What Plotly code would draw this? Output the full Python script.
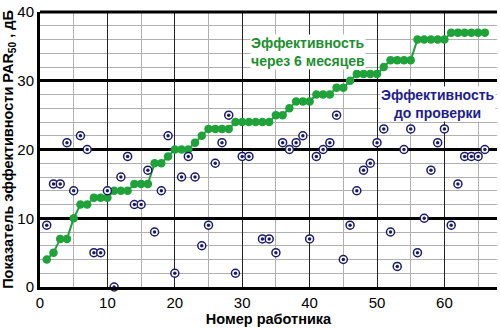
import plotly.graph_objects as go

workers = list(range(1, 67))
after_6m = [4, 5, 7, 7, 10, 12, 12, 13, 13, 13, 14, 14, 14, 15, 15, 15, 18, 18, 19, 20,
            20, 20, 21, 22, 23, 23, 23, 23, 24, 24, 24, 24, 24, 24, 25, 25, 26, 27, 27, 27,
            28, 28, 28, 29, 29, 30, 31, 31, 31, 31, 32, 33, 33, 33, 33, 36, 36, 36, 36, 36,
            37, 37, 37, 37, 37, 37]
before = [9, 15, 15, 21, 14, 22, 20, 5, 5, 14, 0, 16, 19, 12, 12, 17, 8, 14, 22, 2,
          16, 19, 16, 6, 9, 18, 21, 25, 2, 19, 19, None, 7, 7, 5, 21, 20, 21, 22, 7,
          19, 20, 21, 25, 4, 9, 14, 17, 18, 21, 23, 8, 3, 20, 23, 5, 10, 17, 21, 23,
          9, 15, 19, 19, 19, 20]
x_ticks = [0, 10, 20, 30, 40, 50, 60]
y_ticks = [0, 10, 20, 30, 40]

GREEN = "#1fa23a"
NAVY = "#1b1b66"
FONT = "Liberation Sans, Arial, sans-serif"

fig = go.Figure()
fig.add_trace(go.Scatter(x=workers, y=after_6m, mode="lines+markers",
                         line=dict(color=GREEN, width=2),
                         marker=dict(color=GREEN, size=8.5), showlegend=False,
                         cliponaxis=False))
fig.add_trace(go.Scatter(x=workers, y=before, mode="markers",
                         marker=dict(color="white", size=8, line=dict(color=NAVY, width=1.5)),
                         showlegend=False, cliponaxis=False))
fig.add_trace(go.Scatter(x=workers, y=before, mode="markers",
                         marker=dict(color=NAVY, size=3.5), showlegend=False, cliponaxis=False))

fig.add_annotation(x=31.1, y=34.2, xref="x", yref="y", xanchor="left", yanchor="middle",
                   text="<b>Эффективность<br>через 6 месяцев</b>", showarrow=False, align="left",
                   font=dict(family=FONT, size=14, color="#1e8f30"), bgcolor="white", borderpad=0)
fig.add_annotation(x=59.1, y=26.6, xref="x", yref="y", xanchor="center", yanchor="middle",
                   text="<b>Эффективность<br>до проверки</b>", showarrow=False, align="center",
                   font=dict(family=FONT, size=14, color="#1e1e8c"), bgcolor="white", borderpad=0)

fig.add_shape(type="line", xref="paper", yref="paper", x0=0, x1=1, y0=1, y1=1,
              line=dict(color="black", width=3), layer="above")

fig.update_layout(
    width=500, height=328,
    margin=dict(l=40, r=3, t=6, b=37),
    paper_bgcolor="white", plot_bgcolor="white",
    font=dict(family=FONT, size=15, color="black"),
    xaxis=dict(range=[0, 67.8], tickvals=x_ticks, showgrid=True, gridcolor="#222222", gridwidth=1,
               minor=dict(dtick=5, tick0=0, showgrid=True, gridcolor="#b0b0b0", gridwidth=1),
               showline=True, linecolor="black", linewidth=3, ticks="", zeroline=False,
               ticklabeloverflow="allow",
               title=dict(text="<b>Номер работника</b>", font=dict(size=14.5), standoff=4),
               tickfont=dict(size=15)),
    yaxis=dict(range=[0, 40], tickvals=y_ticks, showgrid=True, gridcolor="black", gridwidth=2.5,
               minor=dict(dtick=2, tick0=0, showgrid=True, gridcolor="#b0b0b0", gridwidth=1),
               showline=True, linecolor="black", linewidth=3, ticks="", zeroline=False,
               ticklabeloverflow="allow",
               title=dict(text="<b>Показатель эффективности PAR<sub>50</sub> , дБ</b>",
                          font=dict(size=14.5), standoff=4),
               tickfont=dict(size=15)),
)

fig.write_html("out.html")
